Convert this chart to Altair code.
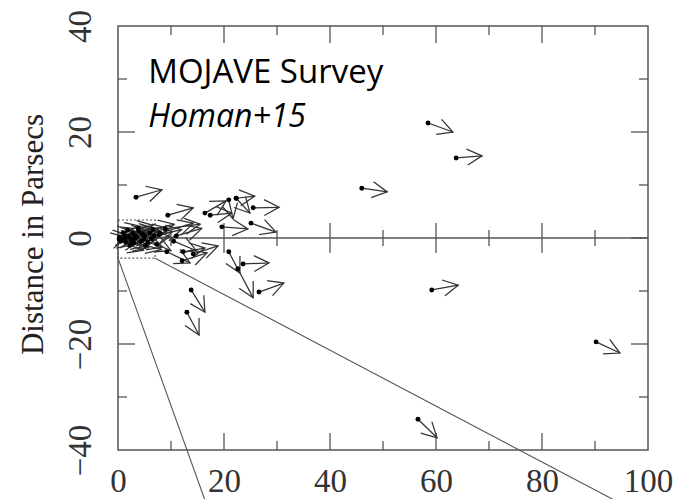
import altair as alt
import pandas as pd

# Component start positions (x0, y0) and positions one epoch later (x1, y1), parsecs
x0 = [58.5, 63.8, 46.0, 25.5, 25.1, 23.6, 26.6, 59.2, 56.6, 90.2, 13.8, 13.0,
      3.4, 9.4, 19.6, 20.9, 22.6, 20.9, 22.3, 22.3, 16.4, 17.4,
      9.2, 12.3, 12.1, 14.2, 8.9, 7.9, 10.5, 11.0,
      0.3, 0.8, 1.2, 1.5, 2.0, 2.4, 2.8, 3.0, 3.5, 4.0, 4.3, 5.0, 5.2, 6.0, 6.3,
      1.0, 2.2, 3.8, 0.5, 1.8, 2.6, 3.3, 4.6, 5.6, 6.8, 7.3, 1.4, 3.1, 4.9, 0.2,
      6.6, 7.8]
y0 = [21.7, 15.1, 9.4, 5.7, 2.8, -4.9, -10.2, -9.8, -34.2, -19.6, -9.8, -14.0,
      7.7, 4.3, 2.1, -2.6, -5.8, 7.2, 7.5, 7.5, 4.7, 4.3,
      -2.6, -2.6, -4.3, -3.0, 1.7, 0.9, -0.6, 0.4,
      0.2, -0.3, 0.6, -0.8, 0.3, -0.2, 0.9, -1.0, 0.1, 1.2, -0.6, 0.5, -1.4, 1.0, -0.2,
      1.0, -1.4, 1.8, -0.6, 1.5, -0.7, 0.5, 0.8, -0.8, 0.4, -1.2, 0.0, -0.1, -0.2, -0.2,
      1.6, 0.6]
x1 = [63.2, 68.7, 50.8, 30.4, 29.8, 28.5, 31.3, 64.2, 60.2, 94.7, 16.4, 15.3,
      8.3, 14.2, 24.5, 23.0, 25.5, 21.7, 25.8, 24.9, 20.4, 21.5,
      13.6, 16.4, 16.8, 18.9, 15.5, 14.2, 14.8, 15.8,
      2.0, 3.0, 3.5, 4.0, 4.5, 5.0, 5.6, 5.8, 6.5, 7.0, 7.2, 8.0, 8.2, 9.5, 9.8,
      3.0, 4.8, 6.6, 2.8, 4.3, 5.4, 6.2, 7.6, 8.4, 10.3, 10.0, 3.6, 5.9, 7.9, 1.6,
      10.6, 12.0]
y1 = [20.0, 15.5, 8.7, 5.8, 1.1, -4.7, -8.5, -8.9, -37.7, -21.7, -14.0, -18.3,
      9.1, 5.7, 1.7, -6.6, -11.3, 3.6, 7.9, 4.7, 7.0, 4.7,
      -4.7, -1.9, -2.8, -1.5, 2.6, 2.8, -2.4, 1.8,
      0.5, 0.0, 1.0, -0.5, 0.8, 0.2, 1.5, -1.8, 0.6, 1.8, -0.3, 1.2, -2.2, 1.8, 0.3,
      1.8, -2.3, 2.4, -1.3, 2.2, -1.5, 1.2, 1.6, -1.7, 1.2, -2.4, 0.4, 0.5, 0.6, 0.1,
      2.6, 1.6]

# Zoom box around the core and the two lines leading out of it
box_x = [0, 7]
box_y = [-3.8, 3.4]
guide_x0 = [0, 7]
guide_y0 = [-3.8, -3.8]
guide_x1 = [16.6, 94.7]
guide_y1 = [-50, -50]

# Tick positions
x_major = [20, 40, 60, 80]
x_minor = [10, 30, 50, 70, 90]
y_major = [-20, 0, 20]
y_minor = [-30, -10, 10, 30]
x_labels = [0, 20, 40, 60, 80, 100]
y_labels = [-40, -20, 0, 20, 40]

title_lines = ["MOJAVE Survey", "Homan+15"]

comp = pd.DataFrame({"x0": x0, "y0": y0, "x1": x1, "y1": y1})
guides = pd.DataFrame({"x0": guide_x0, "y0": guide_y0, "x1": guide_x1, "y1": guide_y1})

LINE = "#333333"
AXIS = "#555555"
SERIF = "Liberation Serif"

sx = alt.Scale(domain=[0, 100], nice=False, zero=False)
sy = alt.Scale(domain=[-40, 40], nice=False, zero=False)

x_axis = alt.Axis(values=x_labels, title="", grid=False, domain=False, ticks=False,
                  labelFont=SERIF, labelFontSize=33, labelColor="#333",
                  labelPadding=15, labelFlush=False, labelOverlap=False)
y_axis = alt.Axis(values=y_labels, grid=False, domain=False, ticks=False,
                  labelFont=SERIF, labelFontSize=33, labelColor="#333",
                  labelAngle=270, labelAlign="center", labelBaseline="bottom",
                  labelPadding=21, labelFlush=False, labelOverlap=False,
                  title="Distance in Parsecs", titleFont=SERIF, titleFontSize=31,
                  titleFontWeight="normal", titleColor="#222", titleAngle=270,
                  titleAlign="center", titleBaseline="middle", titleX=-85, titleY=208)


def X(field):
    return alt.X(field, scale=sx, axis=x_axis)


def Y(field):
    return alt.Y(field, scale=sy, axis=y_axis)


def XD(v):
    return alt.XDatum(v, scale=sx, axis=x_axis)


def YD(v):
    return alt.YDatum(v, scale=sy, axis=y_axis)


# Arrow shafts
shafts = alt.Chart(comp).mark_rule(color=LINE, strokeWidth=1.25).encode(
    x=X("x0:Q"), y=Y("y0:Q"), x2="x1:Q", y2="y1:Q",
)

# Open arrowheads at the end positions, rotated along each shaft
heads = alt.Chart(comp).transform_calculate(
    ang="(atan2(-(datum.y1 - datum.y0), datum.x1 - datum.x0) * 180 / PI + 360) % 360"
).mark_point(shape="M -1 -0.53 L 0 0 L -1 0.53", filled=False, size=900,
             color=LINE, strokeWidth=1.25, opacity=1).encode(
    x=X("x1:Q"), y=Y("y1:Q"),
    angle=alt.Angle("ang:Q", scale=None),
)

dots = alt.Chart(comp).mark_circle(color="black", size=24, opacity=1).encode(
    x=X("x0:Q"), y=Y("y0:Q"),
)

zero_line = alt.Chart().mark_rule(color=AXIS, strokeWidth=1.3).encode(y=YD(0))

box = alt.Chart().mark_rect(fillOpacity=0, stroke="#555", strokeWidth=1.2,
                            strokeDash=[2, 2]).encode(
    x=XD(box_x[0]), x2=alt.datum(box_x[1]),
    y=YD(box_y[0]), y2=alt.datum(box_y[1]),
)

guide_lines = alt.Chart(guides).mark_rule(color="#555", strokeWidth=1.1).encode(
    x=X("x0:Q"), y=Y("y0:Q"), x2="x1:Q", y2="y1:Q",
)


def xticks(vals, ypos, length, cross=False):
    df = pd.DataFrame({"v": vals})
    if cross:
        mark = alt.Chart(df).mark_rule(color=AXIS, strokeWidth=1.3,
                                       yOffset=-length, y2Offset=length)
    else:
        mark = alt.Chart(df).mark_rule(color=AXIS, strokeWidth=1.3, y2Offset=length)
    return mark.encode(x=X("v:Q"), y=YD(ypos), y2=alt.datum(ypos))


def yticks(vals, xpos, length):
    df = pd.DataFrame({"v": vals})
    return alt.Chart(df).mark_rule(color=AXIS, strokeWidth=1.3, x2Offset=length).encode(
        y=Y("v:Q"), x=XD(xpos), x2=alt.datum(xpos))


ticks = [
    xticks(x_major, 40, 17), xticks(x_minor, 40, 9),
    xticks(x_major, -40, -17), xticks(x_minor, -40, -9),
    xticks(x_major, 0, 15, cross=True), xticks(x_minor, 0, 8, cross=True),
    yticks(y_major, 0, 17), yticks(y_minor, 0, 9),
    yticks(y_major, 100, -17), yticks(y_minor, 100, -9),
]

label1 = alt.Chart().mark_text(text=title_lines[0], align="left", baseline="alphabetic",
                               font="Open Sans", fontSize=33, color="black").encode(
    x=XD(5.7), y=YD(29.2))
label2 = alt.Chart().mark_text(text=title_lines[1], align="left", baseline="alphabetic",
                               font="Open Sans", fontSize=32, fontStyle="italic",
                               color="black").encode(
    x=XD(5.7), y=YD(20.9))

chart = alt.layer(
    shafts, zero_line, box, guide_lines, *ticks, heads, dots, label1, label2
).properties(
    width=530, height=424,
    autosize=alt.AutoSizeParams(type="none"),
    padding={"left": 118, "top": 26, "right": 35, "bottom": 49},
).configure(background="white").configure_view(stroke=AXIS, strokeWidth=1.5)

chart.save("out.html", embed_options={"renderer": "svg", "actions": False})
